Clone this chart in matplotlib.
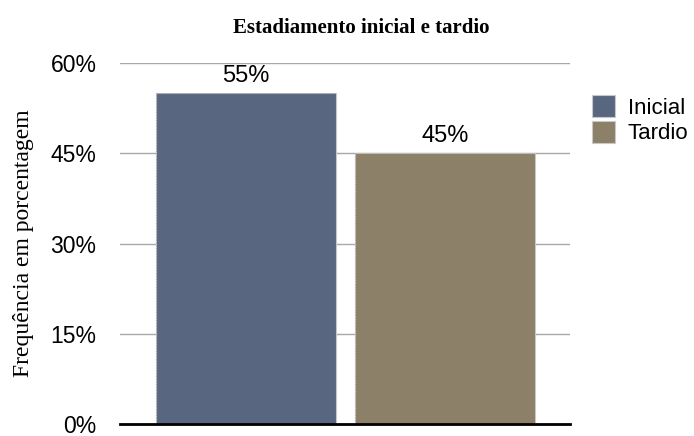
import matplotlib.pyplot as plt
from matplotlib.patches import Patch

categories = ["Inicial", "Tardio"]
values = [55, 45]
colors = ["#58677f", "#8c8068"]
yticks = [0, 15, 30, 45, 60]

fig = plt.figure(figsize=(6.94, 4.36), dpi=100)
ax = fig.add_axes([0.173, 0.027, 0.648, 0.829])

x = list(range(len(categories)))
for xi, v, c in zip(x, values, colors):
    ax.bar(xi, v, width=0.905, color=c, edgecolor="#c8c8c8", linewidth=0.8, zorder=3)
    # subtle horizontal texture
    ax.bar(xi, v, width=0.905, color="none", edgecolor=c, hatch="------",
           linewidth=0, alpha=0.35, zorder=4)
    ax.text(xi, v + 1.0, f"{v}%", ha="center", va="bottom",
            fontsize=17, family="Liberation Sans", zorder=5)

ax.set_xlim(-0.633, 1.628)
ax.set_ylim(0, 60)
ax.set_yticks(yticks)
ax.set_yticklabels([f"{t}%" for t in yticks], family="Liberation Sans", fontsize=16.5)
ax.set_xticks([])
ax.tick_params(axis="y", length=0, pad=17)
ax.grid(axis="y", color="#a8a8a8", linewidth=1, zorder=0)
for side in ["top", "right", "left"]:
    ax.spines[side].set_visible(False)
ax.spines["bottom"].set_linewidth(2)
ax.spines["bottom"].set_zorder(6)

ax.set_ylabel("Frequência em porcentagem", family="Liberation Serif", fontsize=17, labelpad=12)
fig.text(0.521, 0.936, "Estadiamento inicial e tardio", ha="center", va="center",
         family="Liberation Serif", fontweight="bold", fontsize=15)

handles = [Patch(facecolor=c, edgecolor="#c8c8c8", linewidth=0.8) for c in colors]
fig.legend(handles, categories, loc="upper left", bbox_to_anchor=(0.853, 0.782),
           frameon=False, prop={"family": "Liberation Sans", "size": 16},
           handlelength=1.05, handleheight=1.15, handletextpad=0.55, labelspacing=0.1,
           borderaxespad=0, borderpad=0)

fig.savefig("out.png", dpi=100)
